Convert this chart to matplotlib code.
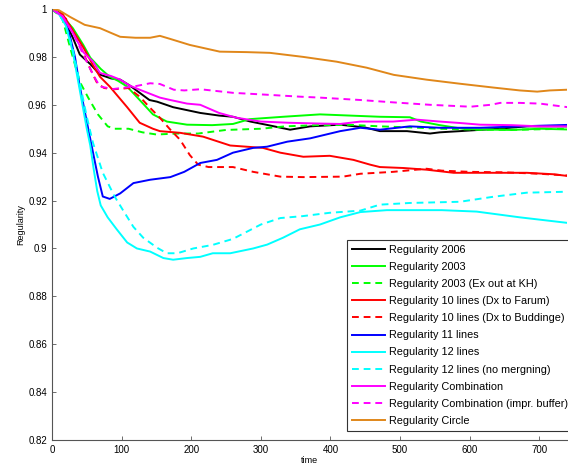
import matplotlib
matplotlib.use('Agg')
import matplotlib.pyplot as plt

# Regularity vs time
t_2006 = [0, 15, 30, 40, 55, 69, 85, 98, 112, 126, 140, 151, 174, 213, 240, 260, 285, 309, 342,
          371, 414, 450, 471, 510, 543, 557, 586, 640, 682, 740]
r_2006 = [1.0, 0.997, 0.988, 0.981, 0.977, 0.9726, 0.971, 0.9705, 0.968, 0.965, 0.962, 0.9613, 0.959,
          0.9566, 0.9555, 0.955, 0.953, 0.9516, 0.9496, 0.951, 0.9517, 0.9505, 0.949, 0.949, 0.948,
          0.9485, 0.949, 0.950, 0.951, 0.951]

t_2003 = [0, 15, 30, 45, 55, 70, 83, 95, 108, 126, 145, 165, 194, 230, 260, 284, 332, 385, 471, 514,
          530, 557, 590, 615, 660, 701, 740]
r_2003 = [1.0, 0.997, 0.992, 0.985, 0.9797, 0.975, 0.9717, 0.970, 0.9676, 0.962, 0.956, 0.953, 0.9517,
          0.9515, 0.952, 0.954, 0.955, 0.956, 0.955, 0.9548, 0.953, 0.9515, 0.950, 0.9497, 0.9495, 0.950,
          0.9497]

t_2003_kh = [0, 15, 26, 40, 52, 66, 80, 90, 110, 130, 150, 180, 210, 250, 300, 335, 380, 430, 471,
             520, 557, 615, 670, 740]
r_2003_kh = [1.0, 0.996, 0.984, 0.9696, 0.963, 0.956, 0.951, 0.950, 0.950, 0.9485, 0.9476, 0.948,
             0.948, 0.9495, 0.950, 0.951, 0.9515, 0.9516, 0.951, 0.9505, 0.950, 0.9496, 0.9496, 0.950]

t_10_farum = [0, 15, 30, 45, 60, 69, 83, 108, 126, 145, 155, 184, 217, 256, 303, 328, 361, 399, 433,
              457, 471, 505, 538, 577, 640, 682, 720, 740]
r_10_farum = [1.0, 0.998, 0.991, 0.984, 0.976, 0.9717, 0.9676, 0.959, 0.9525, 0.950, 0.949, 0.9483,
              0.9467, 0.943, 0.942, 0.940, 0.9383, 0.9387, 0.937, 0.935, 0.934, 0.9336, 0.9329, 0.9316,
              0.9316, 0.9316, 0.931, 0.9303]

t_10_budd = [0, 20, 40, 55, 65, 75, 90, 110, 126, 140, 155, 170, 184, 198, 210, 225, 260, 289, 328,
             361, 418, 443, 490, 538, 560, 600, 650, 700, 740]
r_10_budd = [1.0, 0.996, 0.985, 0.975, 0.969, 0.967, 0.9665, 0.967, 0.9634, 0.959, 0.9546, 0.9496,
             0.9454, 0.939, 0.935, 0.934, 0.934, 0.932, 0.930, 0.9298, 0.930, 0.9312, 0.932, 0.9333,
             0.9325, 0.932, 0.9318, 0.9312, 0.9305]

t_11 = [0, 10, 20, 26, 33, 40, 50, 59, 66, 73, 83, 98, 117, 141, 170, 190, 213, 237, 260, 289, 309,
        338, 371, 414, 443, 471, 514, 557, 615, 672, 740]
r_11 = [1.0, 0.998, 0.994, 0.9884, 0.980, 0.9676, 0.953, 0.940, 0.930, 0.9217, 0.9207, 0.923, 0.9273,
        0.9287, 0.9298, 0.932, 0.9357, 0.937, 0.940, 0.942, 0.9425, 0.9446, 0.946, 0.949, 0.9504,
        0.9496, 0.951, 0.9504, 0.9504, 0.951, 0.9516]

t_12 = [0, 10, 20, 30, 40, 50, 55, 60, 65, 70, 80, 93, 108, 122, 141, 160, 174, 194, 213, 231, 256,
        289, 309, 332, 356, 385, 414, 443, 481, 529, 560, 610, 672, 740]
r_12 = [1.0, 0.998, 0.993, 0.982, 0.966, 0.950, 0.943, 0.933, 0.924, 0.918, 0.913, 0.908, 0.9025,
        0.900, 0.8987, 0.896, 0.8953, 0.896, 0.8965, 0.898, 0.898, 0.900, 0.9016, 0.9045, 0.908,
        0.910, 0.913, 0.9152, 0.916, 0.916, 0.916, 0.9154, 0.913, 0.9107]

t_12_nm = [0, 10, 20, 30, 40, 50, 59, 73, 90, 102, 117, 131, 151, 165, 180, 203, 231, 260, 280, 300,
           328, 360, 399, 443, 471, 514, 586, 634, 682, 740]
r_12_nm = [1.0, 0.998, 0.993, 0.983, 0.969, 0.955, 0.944, 0.9316, 0.9217, 0.916, 0.909, 0.9045,
           0.9003, 0.898, 0.898, 0.900, 0.9015, 0.904, 0.907, 0.910, 0.9127, 0.9135, 0.9149, 0.9158,
           0.9183, 0.919, 0.9195, 0.9216, 0.9233, 0.9237]

t_comb = [0, 15, 30, 45, 59, 69, 85, 98, 112, 126, 155, 170, 194, 213, 240, 265, 300, 340, 380, 414,
          443, 490, 524, 557, 586, 615, 660, 701, 740]
r_comb = [1.0, 0.997, 0.990, 0.982, 0.978, 0.9733, 0.972, 0.9705, 0.968, 0.9663, 0.963, 0.962,
          0.9605, 0.960, 0.9566, 0.9546, 0.953, 0.9525, 0.9522, 0.952, 0.953, 0.953, 0.9538, 0.953,
          0.9524, 0.9517, 0.9515, 0.951, 0.951]

t_comb_buf = [0, 15, 30, 45, 60, 69, 88, 117, 141, 155, 175, 190, 213, 260, 309, 356, 385, 443, 491,
              543, 601, 630, 644, 672, 701, 741]
r_comb_buf = [1.0, 0.997, 0.990, 0.981, 0.972, 0.9676, 0.9666, 0.9676, 0.969, 0.9687, 0.9663, 0.966,
              0.9665, 0.965, 0.9642, 0.9634, 0.963, 0.962, 0.961, 0.960, 0.9592, 0.960, 0.9608, 0.9608,
              0.9605, 0.959]

t_circle = [0, 10, 26, 47, 69, 85, 98, 120, 141, 155, 170, 198, 241, 280, 313, 361, 409, 452, 491,
            538, 586, 634, 672, 697, 715, 740]
r_circle = [1.0, 0.9995, 0.9967, 0.9934, 0.992, 0.990, 0.9884, 0.988, 0.988, 0.9888, 0.9875, 0.985,
            0.9822, 0.982, 0.9817, 0.980, 0.978, 0.9755, 0.9725, 0.9705, 0.9688, 0.9672, 0.966,
            0.9655, 0.966, 0.9663]

series = [
    (t_2006, r_2006, 'k', '-', 'Regularity 2006'),
    (t_2003, r_2003, '#00ff00', '-', 'Regularity 2003'),
    (t_2003_kh, r_2003_kh, '#00ff00', '--', 'Regularity 2003 (Ex out at KH)'),
    (t_10_farum, r_10_farum, '#ff0000', '-', 'Regularity 10 lines (Dx to Farum)'),
    (t_10_budd, r_10_budd, '#ff0000', '--', 'Regularity 10 lines (Dx to Buddinge)'),
    (t_11, r_11, '#0000ff', '-', 'Regularity 11 lines'),
    (t_12, r_12, '#00ffff', '-', 'Regularity 12 lines'),
    (t_12_nm, r_12_nm, '#00ffff', '--', 'Regularity 12 lines (no mergning)'),
    (t_comb, r_comb, '#ff00ff', '-', 'Regularity Combination'),
    (t_comb_buf, r_comb_buf, '#ff00ff', '--', 'Regularity Combination (impr. buffer)'),
    (t_circle, r_circle, '#e0871a', '-', 'Regularity Circle'),
]

x_ticks = [0, 100, 200, 300, 400, 500, 600, 700]
y_ticks = [0.82, 0.84, 0.86, 0.88, 0.9, 0.92, 0.94, 0.96, 0.98, 1.0]
y_tick_labels = ['0.82', '0.84', '0.86', '0.88', '0.9', '0.92', '0.94', '0.96', '0.98', '1']

plt.rcParams['font.family'] = ['Liberation Sans', 'DejaVu Sans']

fig = plt.figure(figsize=(5.68, 4.70), dpi=100)
ax = fig.add_axes([0.0915, 0.0638, 0.907, 0.917])

for t, r, color, style, label in series:
    line, = ax.plot(t, r, color=color, linestyle=style, linewidth=1.4, label=label)
    if style == '--':
        line.set_dashes((3.5, 2.5))

ax.set_xlim(0, 740)
ax.set_ylim(0.82, 1.0)
ax.set_xticks(x_ticks)
ax.set_yticks(y_ticks)
ax.set_yticklabels(y_tick_labels)
ax.tick_params(direction='in', length=3, width=0.6, labelsize=7, color='#555555')
for side in ['top', 'right']:
    ax.spines[side].set_visible(False)
for side in ['left', 'bottom']:
    ax.spines[side].set_color('#555555')
    ax.spines[side].set_linewidth(0.8)

ax.set_xlabel('time', fontsize=6.5, labelpad=1)
ax.set_ylabel('Regularity', fontsize=6.5, labelpad=2)

leg = ax.legend(loc='lower left', bbox_to_anchor=(0.573, 0.021), borderaxespad=0,
                fontsize=7.8, labelspacing=0.66, handlelength=3.0, handletextpad=0.4,
                borderpad=0.45, fancybox=False, framealpha=1)
leg.get_frame().set_edgecolor('#333333')
leg.get_frame().set_linewidth(0.8)

fig.savefig('out.png', dpi=100)
